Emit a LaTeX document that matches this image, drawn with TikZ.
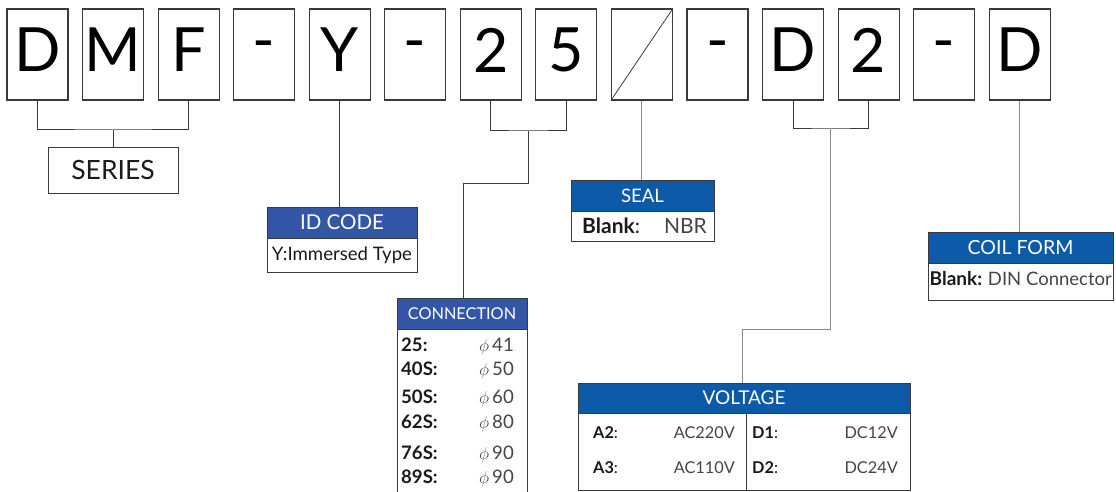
\documentclass[tikz,border=0pt]{standalone}
\usepackage{fontspec}
\setmainfont{Lato}
\newcommand\pxfont[1]{\fontsize{#1}{#1}\selectfont}
\newcommand\lowdash{\raisebox{-3pt}{-}}
\definecolor{hdblue}{HTML}{3357A6}
\definecolor{hdblueb}{HTML}{0D5BA8}
\definecolor{edge}{HTML}{3A3A3A}
\definecolor{lead}{HTML}{8A8A8A}
\definecolor{valtext}{HTML}{444444}
\definecolor{keytext}{HTML}{1A1A1A}

\tikzstyle{letter} = [draw=edge, line width=1.1pt, minimum width=61, minimum height=91, inner sep=0, text depth=9, font=\pxfont{61}]
\tikzstyle{head} = [draw=edge, line width=1pt, fill=hdblue, text=white, inner sep=0]
\tikzstyle{headb} = [head, fill=hdblueb]
\tikzstyle{body} = [draw=edge, line width=1pt, fill=white, inner sep=0, text=keytext]
\tikzstyle{key} = [anchor=base west, inner sep=0, text=keytext]
\tikzstyle{val} = [anchor=base east, inner sep=0, text=valtext]
\tikzstyle{line} = [draw=edge, line width=1pt]
\tikzstyle{grayline} = [draw=lead, line width=1pt]

\begin{document}
\begin{tikzpicture}[x=1pt, y=-1pt]
	\useasboundingbox (0,0) rectangle (1116,492);
	% code letters
	\node (c0) at (37.5,54.5) [letter] {D};
	\node (c1) at (113.05,54.5) [letter] {M};
	\node (c2) at (188.6,54.5) [letter] {F};
	\node (c3) at (264.15,54.5) [letter] {\lowdash};
	\node (c4) at (339.7,54.5) [letter] {Y};
	\node (c5) at (415.25,54.5) [letter] {\lowdash};
	\node (c6) at (490.8,54.5) [letter] {2};
	\node (c7) at (566.35,54.5) [letter] {5};
	\node (c8) at (641.9,54.5) [letter] {};
	\node (c9) at (717.45,54.5) [letter] {\lowdash};
	\node (c10) at (793,54.5) [letter] {D};
	\node (c11) at (868.55,54.5) [letter] {2};
	\node (c12) at (944.1,54.5) [letter] {\lowdash};
	\node (c13) at (1019.65,54.5) [letter] {D};
	\path[draw=edge, line width=0.8pt](c8.south west) -- (c8.north east);

	% series
	\node (series) at (113.05,170.5) [body, minimum width=130, minimum height=45, font=\pxfont{26.5}] {SERIES};
	\coordinate (sj) at (113.05,130);
	\path[line](c0.south) |- (sj) -| (c2.south);
	\path[line](sj) -- (series.north);

	% id code
	\node (idhead) at (342,222.5) [head, minimum width=150, minimum height=31, font=\pxfont{20.5}] {ID CODE};
	\node (idbody) at (342,255) [body, minimum width=150, minimum height=34] {};
	\node at (342,260) [anchor=base, inner sep=0, text=keytext, font=\pxfont{18.6}] {Y:Immersed Type};
	\path[line](c4.south) -- (c4.south |- idhead.north);

	% connection
	\node (connhead) at (462,313.5) [head, minimum width=130, minimum height=31, font=\pxfont{16.3}] {CONNECTION};
	\node (connbody) at (462,424.5) [body, minimum width=130, minimum height=191] {};
	\node at (401,351.5) [key, font=\pxfont{18.6}\bfseries] {25:};
	\node at (401,375.5) [key, font=\pxfont{18.6}\bfseries] {40S:};
	\node at (401,403.5) [key, font=\pxfont{18.6}\bfseries] {50S:};
	\node at (401,428.5) [key, font=\pxfont{18.6}\bfseries] {62S:};
	\node at (401,459.5) [key, font=\pxfont{18.6}\bfseries] {76S:};
	\node at (401,483.5) [key, font=\pxfont{18.6}\bfseries] {89S:};
	\node at (514,351.5) [val, font=\pxfont{18.6}] {{\pxfont{17}$\phi$}\,41};
	\node at (514,375.5) [val, font=\pxfont{18.6}] {{\pxfont{17}$\phi$}\,50};
	\node at (514,403.5) [val, font=\pxfont{18.6}] {{\pxfont{17}$\phi$}\,60};
	\node at (514,428.5) [val, font=\pxfont{18.6}] {{\pxfont{17}$\phi$}\,80};
	\node at (514,459.5) [val, font=\pxfont{18.6}] {{\pxfont{17}$\phi$}\,90};
	\node at (514,483.5) [val, font=\pxfont{18.6}] {{\pxfont{17}$\phi$}\,90};
	\coordinate (cj) at (528.6,131);
	\coordinate (cb) at (463.5,183.5);
	\path[line](c6.south) |- (cj) -| (c7.south);
	\path[line](cj) |- (cb) -- (cb |- connhead.north);

	% seal
	\node (sealhead) at (642.5,195.5) [headb, minimum width=143, minimum height=31, font=\pxfont{18.6}] {SEAL};
	\node (sealbody) at (642.5,226) [body, minimum width=143, minimum height=30] {};
	\node at (582,233.3) [key, font=\pxfont{21}] {{\bfseries Blank}:};
	\node at (707,233.3) [val, font=\pxfont{21}] {NBR};
	\path[grayline](c8.south) -- (c8.south |- sealhead.north);

	% voltage
	\node (volthead) at (744,398) [headb, minimum width=332, minimum height=30, font=\pxfont{19}] {VOLTAGE};
	\node (voltbody) at (744,451.5) [body, minimum width=332, minimum height=77] {};
	\coordinate (vdiv) at (746,0);
	\path[line](voltbody.north -| vdiv) -- (voltbody.south -| vdiv);
	\node at (593,438.3) [key, font=\pxfont{16.3}] {{\bfseries A2}:};
	\node at (593,473.3) [key, font=\pxfont{16.3}] {{\bfseries A3}:};
	\node at (735,438.3) [val, font=\pxfont{16.3}] {AC220V};
	\node at (735,473.3) [val, font=\pxfont{16.3}] {AC110V};
	\node at (752,438.3) [key, font=\pxfont{16.3}] {{\bfseries D1}:};
	\node at (752,473.3) [key, font=\pxfont{16.3}] {{\bfseries D2}:};
	\node at (898,438.3) [val, font=\pxfont{16.3}] {DC12V};
	\node at (898,473.3) [val, font=\pxfont{16.3}] {DC24V};
	\coordinate (vj) at (830.8,129);
	\coordinate (vb) at (742,329);
	\path[line](c10.south) |- (vj) -| (c11.south);
	\path[grayline](vj) |- (vb) -- (vb |- volthead.north);

	% coil form
	\node (coilhead) at (1020.5,247.5) [headb, minimum width=185, minimum height=31, font=\pxfont{19.5}] {COIL FORM};
	\node (coilbody) at (1020.5,281.5) [body, minimum width=185, minimum height=37] {};
	\node at (929.5,285) [key, font=\pxfont{19}\bfseries] {Blank:};
	\node at (1112,285) [val, font=\pxfont{18.5}] {DIN Connector};
	\path[grayline](c13.south) -- (c13.south |- coilhead.north);
\end{tikzpicture}
\end{document}
